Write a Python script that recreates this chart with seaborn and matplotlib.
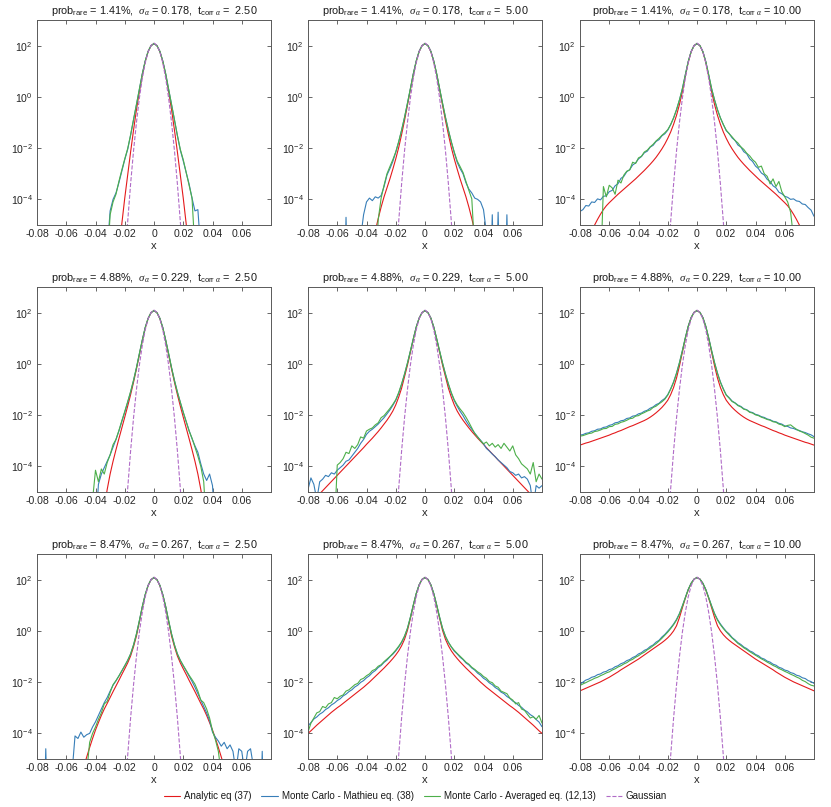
import numpy as np
import matplotlib
matplotlib.use('Agg')
import matplotlib.pyplot as plt
from matplotlib import font_manager
from matplotlib.ticker import FixedLocator, NullLocator, LogFormatterMathtext
import seaborn as sns

# panel parameters (rows: prob_rare / sigma, columns: t_corr)
prob_rare = ['1.41', '4.88', '8.47']
sigma_alpha = ['0.178', '0.229', '0.267']
t_corr = [2.50, 5.00, 10.00]

x_ticks = [-0.08, -0.06, -0.04, -0.02, 0, 0.02, 0.04, 0.06]
x_tick_labels = ['-0.08', '-0.06', '-0.04', '-0.02', '0', '0.02', '0.04', '0.06']
y_ticks = [1e-4, 1e-2, 1e0, 1e2]

legend_labels = ['Analytic eq (37)', 'Monte Carlo - Mathieu eq. (38)',
                 'Monte Carlo - Averaged eq. (12,13)', 'Gaussian']

# histogram bins |x| = 0, 0.002, ... 0.08 ; values are log10 of the density
XS = np.linspace(0.0, 0.08, 41)

gauss = [2.10, 2.01, 1.76, 1.33, 0.72, -0.05, -1.00, -2.11, -3.40, -4.87, -6.50]

# row 1
red_11 = [2.08, 2.00, 1.77, 1.38, 0.85, 0.20, -0.50, -1.30, -2.15, -3.05, -3.95, -4.95, -6.00]
blue_11_l = [2.08, 2.00, 1.78, 1.40, 0.90, 0.30, -0.30, -0.90, -1.50, -2.05, -2.45, -2.90, -3.35, -3.75, -4.00, -4.45, -6.00]
blue_11_r = [2.08, 2.00, 1.78, 1.40, 0.90, 0.30, -0.30, -0.90, -1.52, -2.08, -2.50, -2.95, -3.40, -3.95, -4.45, -4.40, -6.00]
green_11_l = [2.08, 2.00, 1.78, 1.40, 0.90, 0.30, -0.30, -0.88, -1.48, -2.02, -2.42, -2.85, -3.30, -3.80, -4.10, -4.60, -6.50]
green_11_r = [2.08, 2.00, 1.78, 1.40, 0.90, 0.30, -0.30, -0.90, -1.50, -2.05, -2.45, -2.95, -3.45, -3.95, -6.00]

red_12 = [2.08, 2.00, 1.77, 1.38, 0.87, 0.28, -0.33, -0.92, -1.47, -1.98, -2.42, -2.82, -3.20, -3.55, -3.90, -4.30, -4.75, -5.25, -5.80, -6.40]
blue_12_l = [2.08, 2.00, 1.78, 1.40, 0.90, 0.32, -0.25, -0.80, -1.30, -1.76, -2.16, -2.52, -2.80, -3.05, -3.50, -3.85, -3.95, -3.90, -4.05, -3.95, -4.10, -4.60, -5.50, -9, -9, -9, -9, -4.70, -9]
blue_12_r = [2.08, 2.00, 1.78, 1.40, 0.90, 0.32, -0.25, -0.80, -1.30, -1.76, -2.18, -2.55, -2.80, -3.00, -3.35, -3.60, -3.75, -3.95, -4.00, -4.10, -4.40, -5.30, -9, -4.60, -9, -4.50, -9, -9, -4.60, -9]
green_12_l = [2.08, 2.00, 1.78, 1.40, 0.90, 0.32, -0.25, -0.80, -1.30, -1.75, -2.15, -2.45, -2.72, -3.00, -3.45, -3.95, -4.80, -7.00]
green_12_r = [2.08, 2.00, 1.78, 1.40, 0.90, 0.32, -0.25, -0.80, -1.30, -1.75, -2.15, -2.50, -2.72, -2.95, -3.30, -3.65, -3.98, -6.00]

red_13 = [2.08, 2.00, 1.76, 1.35, 0.80, 0.20, -0.30, -0.72, -1.07, -1.37, -1.62, -1.84, -2.03, -2.20, -2.36, -2.50, -2.63, -2.75, -2.87, -2.98, -3.09,
          -3.20, -3.30, -3.40, -3.50, -3.60, -3.70, -3.80, -3.91, -4.02, -4.13, -4.25, -4.40, -4.58, -4.78, -5.00, -5.25, -5.50, -5.75, -6.00, -6.25]
blue_13_l = [2.08, 2.00, 1.77, 1.38, 0.86, 0.32, -0.12, -0.50, -0.82, -1.08, -1.30, -1.44, -1.52, -1.67, -1.74, -1.89, -1.96, -2.12, -2.18, -2.33, -2.42,
             -2.58, -2.66, -2.84, -2.92, -3.10, -3.18, -3.39, -3.47, -3.65, -3.70, -3.86, -3.88, -4.02, -3.98, -4.12, -4.10, -4.26, -4.24, -4.40, -4.47]
blue_13_r = [2.08, 2.00, 1.77, 1.38, 0.86, 0.32, -0.12, -0.50, -0.82, -1.08, -1.32, -1.43, -1.60, -1.70, -1.88, -1.96, -2.14, -2.22, -2.42, -2.52, -2.70,
             -2.80, -2.97, -3.05, -3.22, -3.30, -3.47, -3.55, -3.72, -3.78, -3.88, -3.92, -4.00, -3.98, -4.06, -4.08, -4.18, -4.20, -4.32, -4.42, -4.66]
green_13_l = [2.08, 2.00, 1.77, 1.38, 0.86, 0.32, -0.12, -0.50, -0.82, -1.08, -1.28, -1.40, -1.50, -1.62, -1.72, -1.85, -1.95, -2.08, -2.15, -2.32, -2.38,
              -2.60, -2.55, -2.85, -2.90, -3.05, -3.36, -3.25, -3.80, -3.55, -3.45, -3.90, -3.50, -7.00]
green_13_r = [2.08, 2.00, 1.77, 1.38, 0.86, 0.32, -0.12, -0.50, -0.82, -1.08, -1.30, -1.44, -1.56, -1.70, -1.80, -1.95, -2.05, -2.20, -2.30, -2.45, -2.55,
              -2.75, -2.70, -3.00, -3.10, -3.40, -3.20, -3.50, -3.30, -3.70, -3.90, -4.10, -4.50, -5.50, -7.00]

# row 2
red_21 = [2.08, 2.00, 1.77, 1.40, 0.90, 0.35, -0.20, -0.72, -1.20, -1.65, -2.08, -2.50, -2.92, -3.35, -3.80, -4.30, -4.90, -5.60, -6.40]
blue_21_l = [2.08, 2.00, 1.78, 1.42, 0.93, 0.40, -0.15, -0.65, -1.10, -1.50, -1.88, -2.25, -2.62, -2.95, -3.25, -3.55, -3.80, -4.05, -4.30, -4.70, -6.50]
blue_21_r = [2.08, 2.00, 1.78, 1.42, 0.93, 0.40, -0.15, -0.65, -1.10, -1.50, -1.90, -2.25, -2.60, -2.92, -3.20, -3.45, -3.90, -4.30, -4.55, -4.30, -4.75, -6.50]
green_21_l = [2.08, 2.00, 1.78, 1.42, 0.93, 0.40, -0.15, -0.64, -1.08, -1.48, -1.86, -2.22, -2.60, -2.95, -3.15, -3.55, -3.85, -4.30, -4.10, -4.60, -4.15, -5.30, -7.00]
green_21_r = [2.08, 2.00, 1.78, 1.42, 0.93, 0.40, -0.15, -0.65, -1.10, -1.50, -1.88, -2.25, -2.62, -2.90, -3.25, -3.60, -4.00, -4.60, -6.50]

red_22 = [2.08, 2.00, 1.78, 1.42, 0.95, 0.45, -0.05, -0.50, -0.95, -1.30, -1.60, -1.84, -2.03, -2.20, -2.35, -2.50, -2.64, -2.77, -2.90, -3.02, -3.14,
          -3.27, -3.39, -3.51, -3.63, -3.75, -3.87, -3.99, -4.11, -4.23, -4.35, -4.47, -4.59, -4.71, -4.83, -4.95, -5.07, -5.19, -5.31, -5.43, -5.55]
blue_22_l = [2.08, 2.00, 1.79, 1.44, 0.98, 0.50, 0.03, -0.40, -0.80, -1.15, -1.42, -1.62, -1.80, -1.95, -2.10, -2.22, -2.35, -2.45, -2.55, -2.63, -2.75,
             -2.95, -3.10, -3.30, -3.45, -3.60, -3.75, -3.80, -3.95, -4.05, -4.15, -4.30, -4.25, -4.40, -4.35, -4.50, -4.60, -5.30, -4.70, -4.45, -4.90]
blue_22_r = [2.08, 2.00, 1.79, 1.44, 0.98, 0.50, 0.03, -0.40, -0.80, -1.15, -1.43, -1.65, -1.85, -2.02, -2.22, -2.40, -2.55, -2.70, -2.85, -2.98, -3.12,
             -3.30, -3.40, -3.52, -3.62, -3.75, -3.85, -3.95, -4.05, -4.20, -4.25, -4.35, -4.30, -4.45, -4.40, -4.50, -4.75, -5.60, -4.75, -4.85, -4.75]
green_22_l = [2.08, 2.00, 1.79, 1.44, 0.98, 0.50, 0.03, -0.40, -0.78, -1.12, -1.40, -1.58, -1.74, -1.88, -2.02, -2.10, -2.30, -2.38, -2.50, -2.55, -2.62,
              -2.90, -2.85, -3.15, -3.30, -3.20, -3.50, -3.45, -3.70, -3.85, -3.95, -6.50]
green_22_r = [2.08, 2.00, 1.79, 1.44, 0.98, 0.50, 0.03, -0.40, -0.78, -1.12, -1.40, -1.60, -1.76, -1.90, -2.08, -2.28, -2.50, -2.72, -2.85, -3.00, -3.12,
              -3.05, -3.20, -3.10, -3.25, -3.15, -3.30, -3.10, -3.25, -3.40, -3.20, -3.55, -3.70, -3.90, -4.00, -4.10, -4.30, -3.85, -4.60, -4.30, -4.50]

red_23 = [2.08, 2.01, 1.80, 1.45, 0.98, 0.45, -0.08, -0.55, -0.92, -1.20, -1.42, -1.57, -1.70, -1.81, -1.91, -2.00, -2.08, -2.15, -2.21, -2.26, -2.31,
          -2.36, -2.41, -2.45, -2.50, -2.55, -2.60, -2.64, -2.69, -2.73, -2.78, -2.82, -2.86, -2.90, -2.94, -2.98, -3.02, -3.06, -3.09, -3.13, -3.17]
blue_23_l = [2.08, 2.01, 1.81, 1.47, 1.02, 0.52, 0.05, -0.36, -0.70, -0.97, -1.20, -1.35, -1.43, -1.54, -1.59, -1.68, -1.73, -1.81, -1.85, -1.92, -1.95,
             -2.02, -2.04, -2.11, -2.13, -2.20, -2.22, -2.28, -2.30, -2.37, -2.40, -2.46, -2.48, -2.54, -2.55, -2.61, -2.63, -2.69, -2.71, -2.76, -2.78]
blue_23_r = [2.08, 2.01, 1.81, 1.47, 1.02, 0.52, 0.05, -0.36, -0.70, -0.97, -1.21, -1.32, -1.45, -1.52, -1.61, -1.66, -1.75, -1.79, -1.87, -1.90, -1.97,
             -2.00, -2.06, -2.09, -2.15, -2.18, -2.24, -2.26, -2.32, -2.35, -2.42, -2.44, -2.50, -2.52, -2.57, -2.60, -2.65, -2.68, -2.73, -2.77, -2.84]
green_23_l = [2.08, 2.01, 1.81, 1.47, 1.01, 0.51, 0.04, -0.37, -0.72, -0.99, -1.22, -1.38, -1.48, -1.56, -1.65, -1.70, -1.80, -1.84, -1.90, -1.95, -2.02,
              -2.04, -2.12, -2.14, -2.20, -2.25, -2.28, -2.34, -2.36, -2.44, -2.45, -2.52, -2.53, -2.58, -2.62, -2.64, -2.70, -2.72, -2.76, -2.80, -2.82]
green_23_r = [2.08, 2.01, 1.81, 1.47, 1.01, 0.51, 0.04, -0.37, -0.72, -0.99, -1.22, -1.34, -1.47, -1.53, -1.63, -1.68, -1.77, -1.80, -1.89, -1.92, -1.99,
              -2.02, -2.08, -2.12, -2.17, -2.20, -2.26, -2.28, -2.35, -2.38, -2.45, -2.40, -2.38, -2.47, -2.55, -2.62, -2.66, -2.72, -2.78, -2.86, -2.90]

# row 3
red_31 = [2.08, 2.00, 1.77, 1.40, 0.92, 0.35, -0.20, -0.62, -0.98, -1.25, -1.48, -1.70, -1.93, -2.15, -2.37, -2.60, -2.83, -3.05, -3.30, -3.58, -3.87,
          -4.20, -4.55, -4.92, -5.30, -5.70, -6.10]
blue_31_l = [2.08, 2.00, 1.78, 1.42, 0.95, 0.40, -0.12, -0.55, -0.90, -1.15, -1.36, -1.56, -1.76, -1.95, -2.12, -2.35, -2.60, -2.80, -3.05, -3.30, -3.55,
             -3.75, -4.00, -4.05, -4.15, -3.95, -4.20, -4.10, -5.50, -9, -9, -9, -9, -9, -9, -9, -9, -4.60, -9]
blue_31_r = [2.08, 2.00, 1.78, 1.42, 0.95, 0.40, -0.12, -0.55, -0.90, -1.15, -1.36, -1.56, -1.77, -1.97, -2.20, -2.45, -2.70, -2.95, -3.20, -3.50, -3.95,
             -4.15, -4.30, -4.50, -4.35, -4.60, -4.45, -4.70, -5.50, -4.60, -4.70, -5.50, -4.70, -4.60, -5.30, -9, -9, -4.70, -9]
green_31_l = [2.08, 2.00, 1.78, 1.42, 0.95, 0.40, -0.12, -0.55, -0.90, -1.15, -1.36, -1.56, -1.76, -1.94, -2.10, -2.40, -2.75, -2.85, -3.20, -3.45, -3.75,
              -4.00, -4.35, -5.50, -9]
green_31_r = [2.08, 2.00, 1.78, 1.42, 0.95, 0.40, -0.12, -0.55, -0.90, -1.15, -1.35, -1.54, -1.73, -1.90, -2.08, -2.35, -2.70, -2.80, -3.05, -3.40, -3.90,
              -4.25, -4.70, -5.60, -9]

red_32 = [2.08, 2.01, 1.79, 1.44, 0.98, 0.48, 0.02, -0.33, -0.58, -0.78, -0.94, -1.08, -1.21, -1.33, -1.45, -1.56, -1.67, -1.78, -1.89, -2.00, -2.10,
          -2.20, -2.29, -2.38, -2.47, -2.56, -2.65, -2.74, -2.83, -2.92, -3.00, -3.09, -3.18, -3.28, -3.38, -3.48, -3.58, -3.68, -3.79, -3.90, -4.00]
blue_32_l = [2.08, 2.01, 1.80, 1.46, 1.01, 0.53, 0.10, -0.22, -0.45, -0.63, -0.78, -0.91, -1.01, -1.14, -1.23, -1.35, -1.43, -1.55, -1.63, -1.75, -1.83,
             -1.94, -2.01, -2.12, -2.19, -2.30, -2.37, -2.47, -2.54, -2.65, -2.72, -2.82, -2.89, -3.00, -3.07, -3.18, -3.25, -3.36, -3.44, -3.58, -3.71]
blue_32_r = [2.08, 2.01, 1.80, 1.46, 1.01, 0.53, 0.10, -0.22, -0.45, -0.63, -0.79, -0.90, -1.03, -1.12, -1.25, -1.33, -1.45, -1.53, -1.65, -1.73, -1.85,
             -1.92, -2.03, -2.10, -2.21, -2.28, -2.39, -2.45, -2.56, -2.63, -2.74, -2.80, -2.91, -2.98, -3.09, -3.16, -3.27, -3.34, -3.46, -3.56, -3.74]
green_32_l = [2.08, 2.01, 1.80, 1.46, 1.01, 0.53, 0.10, -0.20, -0.43, -0.60, -0.75, -0.88, -1.00, -1.10, -1.20, -1.32, -1.38, -1.50, -1.55, -1.68, -1.75,
              -1.85, -1.90, -2.05, -2.10, -2.20, -2.30, -2.35, -2.50, -2.55, -2.65, -2.60, -2.80, -2.85, -3.00, -2.95, -3.15, -3.20, -3.40, -3.60, -3.95]
green_32_r = [2.08, 2.01, 1.80, 1.46, 1.01, 0.53, 0.10, -0.21, -0.44, -0.62, -0.76, -0.88, -0.99, -1.10, -1.22, -1.30, -1.42, -1.50, -1.60, -1.67, -1.78,
              -1.85, -1.98, -2.02, -2.15, -2.20, -2.35, -2.40, -2.45, -2.62, -2.70, -2.85, -2.80, -3.05, -3.10, -3.25, -3.40, -3.35, -3.45, -3.30, -3.60]

red_33 = [2.08, 2.02, 1.85, 1.60, 1.27, 0.90, 0.52, 0.20, 0.00, -0.15, -0.27, -0.37, -0.46, -0.54, -0.62, -0.70, -0.78, -0.86, -0.94, -1.02, -1.10,
          -1.17, -1.24, -1.31, -1.38, -1.45, -1.52, -1.60, -1.67, -1.74, -1.81, -1.87, -1.93, -1.99, -2.04, -2.09, -2.14, -2.19, -2.24, -2.29, -2.34]
blue_33_l = [2.08, 2.02, 1.86, 1.62, 1.30, 0.98, 0.68, 0.45, 0.27, 0.12, -0.01, -0.14, -0.24, -0.37, -0.44, -0.55, -0.61, -0.71, -0.76, -0.85, -0.90,
             -0.99, -1.04, -1.12, -1.16, -1.24, -1.28, -1.36, -1.40, -1.48, -1.51, -1.58, -1.61, -1.68, -1.71, -1.78, -1.81, -1.88, -1.92, -2.00, -2.08]
blue_33_r = [2.08, 2.02, 1.86, 1.62, 1.30, 0.98, 0.68, 0.45, 0.27, 0.12, -0.02, -0.12, -0.26, -0.35, -0.46, -0.53, -0.63, -0.69, -0.78, -0.83, -0.92,
             -0.97, -1.06, -1.10, -1.18, -1.22, -1.30, -1.34, -1.42, -1.46, -1.53, -1.56, -1.63, -1.66, -1.73, -1.76, -1.83, -1.86, -1.94, -1.98, -2.05]
green_33_l = [2.08, 2.02, 1.86, 1.61, 1.29, 0.96, 0.66, 0.42, 0.24, 0.09, -0.05, -0.17, -0.29, -0.40, -0.50, -0.58, -0.67, -0.74, -0.83, -0.89, -0.97,
              -1.03, -1.11, -1.16, -1.24, -1.29, -1.36, -1.41, -1.48, -1.53, -1.60, -1.64, -1.70, -1.75, -1.81, -1.85, -1.91, -1.96, -2.02, -2.07, -2.13]
green_33_r = [2.08, 2.02, 1.86, 1.61, 1.29, 0.96, 0.66, 0.42, 0.24, 0.09, -0.04, -0.16, -0.28, -0.38, -0.49, -0.57, -0.66, -0.73, -0.81, -0.88, -0.95,
              -1.02, -1.09, -1.15, -1.22, -1.28, -1.35, -1.40, -1.47, -1.52, -1.58, -1.63, -1.69, -1.74, -1.80, -1.85, -1.93, -1.98, -2.06, -2.12, -2.15]

panels = [
    [(red_11, blue_11_l, blue_11_r, green_11_l, green_11_r),
     (red_12, blue_12_l, blue_12_r, green_12_l, green_12_r),
     (red_13, blue_13_l, blue_13_r, green_13_l, green_13_r)],
    [(red_21, blue_21_l, blue_21_r, green_21_l, green_21_r),
     (red_22, blue_22_l, blue_22_r, green_22_l, green_22_r),
     (red_23, blue_23_l, blue_23_r, green_23_l, green_23_r)],
    [(red_31, blue_31_l, blue_31_r, green_31_l, green_31_r),
     (red_32, blue_32_l, blue_32_r, green_32_l, green_32_r),
     (red_33, blue_33_l, blue_33_r, green_33_l, green_33_r)],
]


def join_sides(left, right):
    # left/right are listed outward from x = 0
    x = np.concatenate([-XS[:len(left)][::-1], XS[1:len(right)]])
    y = np.power(10.0, np.concatenate([np.array(left)[::-1], np.array(right)[1:]]))
    return x, y


sns.set_theme(style='ticks')

# narrow helvetica-like face if present, else the regular one at a smaller size
installed = {f.name for f in font_manager.fontManager.ttflist}
if 'Liberation Sans Narrow' in installed:
    face, fs_title, fs_tick, fs_leg = 'Liberation Sans Narrow', 9.0, 8.5, 8.5
else:
    face, fs_title, fs_tick, fs_leg = 'Liberation Sans', 7.8, 7.6, 7.0

plt.rcParams['font.family'] = [face, 'DejaVu Sans']
plt.rcParams.update({
    'mathtext.fontset': 'custom',
    'mathtext.rm': face,
    'mathtext.it': 'Liberation Serif:italic',
    'mathtext.bf': face + ':bold',
    'axes.unicode_minus': False,
    'text.color': '0.1',
})

pal = sns.color_palette('Set1')
c_red, c_blue, c_green = pal[0], pal[1], pal[2]
c_purple = (0.69, 0.42, 0.78)
lw = 0.8

fig = plt.figure(figsize=(8.31, 8.07), dpi=100)
W, H = 831, 807
col_left = [37, 308, 580]
row_top = [20, 287, 554]
ax_w, ax_h = 234, 205

first_ax = None
for r in range(3):
    for c in range(3):
        ax = fig.add_axes([col_left[c] / W, (H - row_top[r] - ax_h) / H, ax_w / W, ax_h / H])
        red, bl, br, gl, gr = panels[r][c]
        lab = (r == 0 and c == 0)

        x, y = join_sides(red, red)
        sns.lineplot(x=x, y=y, ax=ax, color=c_red, lw=lw, sort=False, estimator=None,
                     legend=False, label=legend_labels[0] if lab else None)
        x, y = join_sides(bl, br)
        sns.lineplot(x=x, y=y, ax=ax, color=c_blue, lw=lw, sort=False, estimator=None,
                     legend=False, label=legend_labels[1] if lab else None)
        x, y = join_sides(gl, gr)
        sns.lineplot(x=x, y=y, ax=ax, color=c_green, lw=lw, sort=False, estimator=None,
                     legend=False, label=legend_labels[2] if lab else None)
        x, y = join_sides(gauss, gauss)
        sns.lineplot(x=x, y=y, ax=ax, color=c_purple, lw=lw, sort=False, estimator=None,
                     legend=False, linestyle='--', dashes=(5, 3),
                     label=legend_labels[3] if lab else None)

        ax.set_yscale('log')
        ax.set_xlim(-0.08, 0.08)
        ax.set_ylim(1e-5, 1e3)
        ax.yaxis.set_major_locator(FixedLocator(y_ticks))
        ax.yaxis.set_major_formatter(LogFormatterMathtext())
        ax.yaxis.set_minor_locator(NullLocator())
        ax.set_xticks(x_ticks, labels=x_tick_labels)
        ax.tick_params(direction='in', top=True, right=True, length=3, width=0.6,
                       labelsize=fs_tick, color='0.3', labelcolor='0.15', pad=3)
        for s in ax.spines.values():
            s.set_color('0.35')
            s.set_linewidth(0.7)
        ax.set_xlabel('x', fontsize=fs_tick + 0.5, labelpad=1, color='0.15')
        ax.set_ylabel('')
        title = (r'prob$_{\mathrm{rare}}$ = ' + prob_rare[r] + r'%,  $\sigma_\alpha$ = '
                 + sigma_alpha[r] + r',  t$_{\mathrm{corr}\ \alpha}$ = ' + f'{t_corr[c]:5.2f}')
        ax.set_title(title, fontsize=fs_title, pad=4)
        if lab:
            first_ax = ax

handles, labels = first_ax.get_legend_handles_labels()
fig.legend(handles, labels, loc='center', bbox_to_anchor=(0.5, 1 - 796 / H), ncol=4,
           frameon=False, fontsize=fs_leg, handlelength=1.7, columnspacing=1.0, handletextpad=0.4)

fig.savefig('out.png', dpi=100)
